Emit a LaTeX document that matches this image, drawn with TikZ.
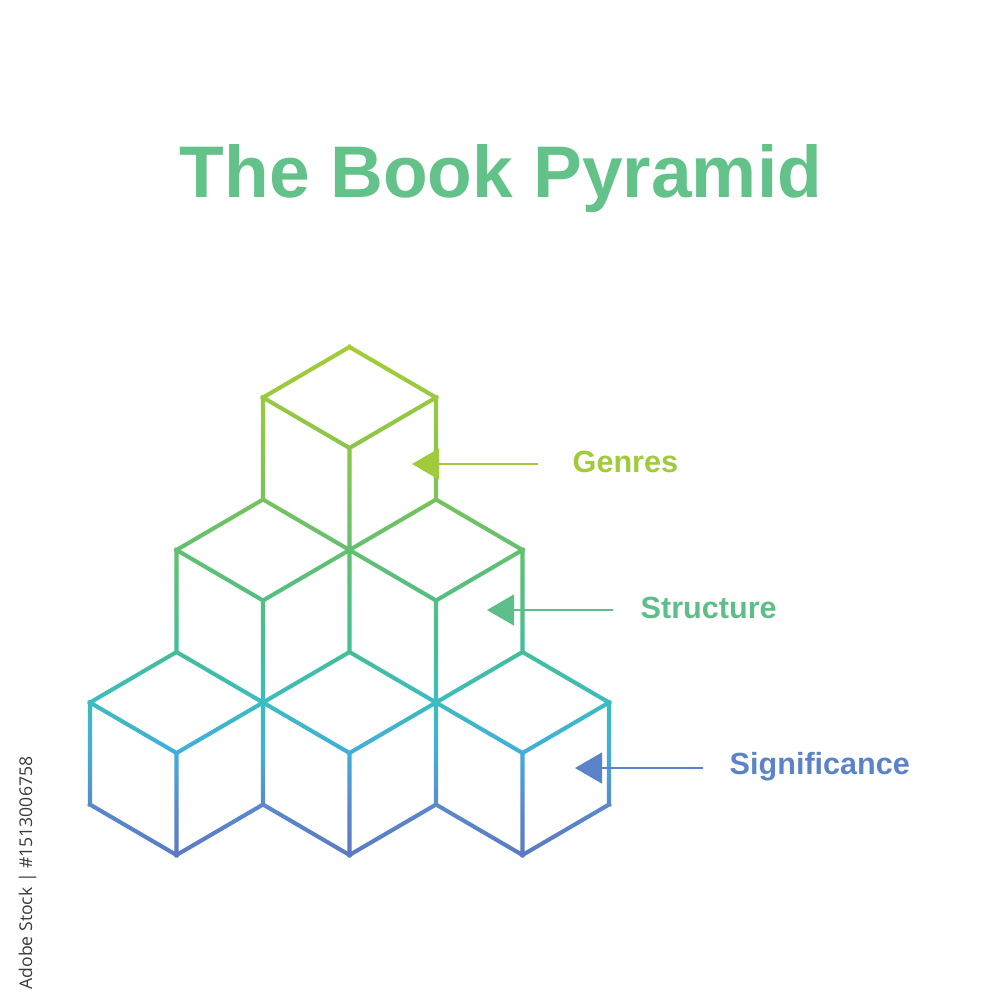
\documentclass[tikz,border=0pt]{standalone}
\usepackage{fontspec}
\setmainfont{Liberation Sans}
\newfontfamily\wmfont{Open Sans}
\usetikzlibrary{arrows.meta,calc}

\definecolor{titlegreen}{HTML}{62C28A}
\definecolor{genrescol}{HTML}{A0CB3A}
\definecolor{structcol}{HTML}{5DBE8A}
\definecolor{signifcol}{HTML}{5B84C8}
\definecolor{wmgray}{HTML}{3A3A3A}
\definecolor{cA}{HTML}{A6CC36}
\definecolor{cB}{HTML}{8AC64A}
\definecolor{cC}{HTML}{63C070}
\definecolor{cD}{HTML}{43BE98}
\definecolor{cE}{HTML}{3CBDBE}
\definecolor{cF}{HTML}{42ADDC}
\definecolor{cG}{HTML}{5A8ACB}
\definecolor{cH}{HTML}{5B7AC4}

\pgfdeclareverticalshading{cubegrad}{100bp}{color(0bp)=(cH); color(25.94bp)=(cH); color(30.66bp)=(cG); color(35.57bp)=(cF); color(40.57bp)=(cE); color(45.09bp)=(cD); color(54.72bp)=(cC); color(64.15bp)=(cB); color(73.87bp)=(cA); color(100bp)=(cA)}

% half stroke width
\def\hw{0.58pt}
% a stroke from #1 to #2 as a thin filled quad (square caps), always same orientation
\newcommand\segq[2]{%
  ($($(#1)!-\hw!(#2)$)!\hw!90:(#2)$) --
  ($($(#2)!-\hw!(#1)$)!\hw!-90:(#1)$) --
  ($($(#2)!-\hw!(#1)$)!\hw!90:(#1)$) --
  ($($(#1)!-\hw!(#2)$)!\hw!-90:(#2)$) -- cycle
}
% one isometric cube, given its top vertex (px)
\newcommand\isocube[2]{%
  \segq{#1,#2}{#1+86.5,#2+50.5}
  \segq{#1+86.5,#2+50.5}{#1+86.5,#2+152.5}
  \segq{#1+86.5,#2+152.5}{#1,#2+203}
  \segq{#1,#2+203}{#1-86.5,#2+152.5}
  \segq{#1-86.5,#2+152.5}{#1-86.5,#2+50.5}
  \segq{#1-86.5,#2+50.5}{#1,#2}
  \segq{#1-86.5,#2+50.5}{#1,#2+101}
  \segq{#1,#2+101}{#1+86.5,#2+50.5}
  \segq{#1,#2+101}{#1,#2+203}
}

\tikzset{
  titlestyle/.style={anchor=base, inner sep=0pt, text=titlegreen,
    font=\fontsize{20.8pt}{24pt}\selectfont\bfseries},
  labelstyle/.style={anchor=base west, inner sep=0pt,
    font=\fontsize{8.7pt}{10pt}\selectfont\bfseries},
  pointer/.style={line width=0.55pt, -{Triangle[length=7.7pt,width=8.8pt]}},
  wmstyle/.style={anchor=base west, inner sep=0pt, rotate=90, text=wmgray,
    font=\wmfont\fontsize{5pt}{6pt}\selectfont}
}

\begin{document}
\begin{tikzpicture}[x=0.01cm, y=-0.01cm]
  \useasboundingbox (0,0) rectangle (1000,1000);
  \fill[white] (0,0) rectangle (1000,1000);

  % title
  \node[titlestyle] (title) at (501,197) {The Book Pyramid};

  % gradient-stroked cubes: clip to the strokes, then shade
  \begin{scope}
    \clip \isocube{349.5}{347}
          \isocube{263}{499.5}
          \isocube{436}{499.5}
          \isocube{176.5}{652}
          \isocube{349.5}{652}
          \isocube{522.5}{652};
    \shade[shading=cubegrad] (80,335) rectangle (625,865);
  \end{scope}

  % labels
  \node[labelstyle, text=genrescol] (genres) at (572,472) {Genres};
  \node[labelstyle, text=structcol] (structure) at (640,618) {Structure};
  \node[labelstyle, text=signifcol] (significance) at (729,774) {Significance};

  % arrow tips
  \coordinate (genTip) at (412,464);
  \coordinate (strTip) at (487,610);
  \coordinate (sigTip) at (575,768);

  \draw[pointer, genrescol, shorten <=9.7pt] (genres.west |- genTip) -- (genTip);
  \draw[pointer, structcol, shorten <=7.7pt] (structure.west |- strTip) -- (strTip);
  \draw[pointer, signifcol, shorten <=7.4pt] (significance.west |- sigTip) -- (sigTip);

  % vertical stock id
  \node[wmstyle] (stockid) at (32,990) {Adobe Stock | \#1513006758};
\end{tikzpicture}
\end{document}
